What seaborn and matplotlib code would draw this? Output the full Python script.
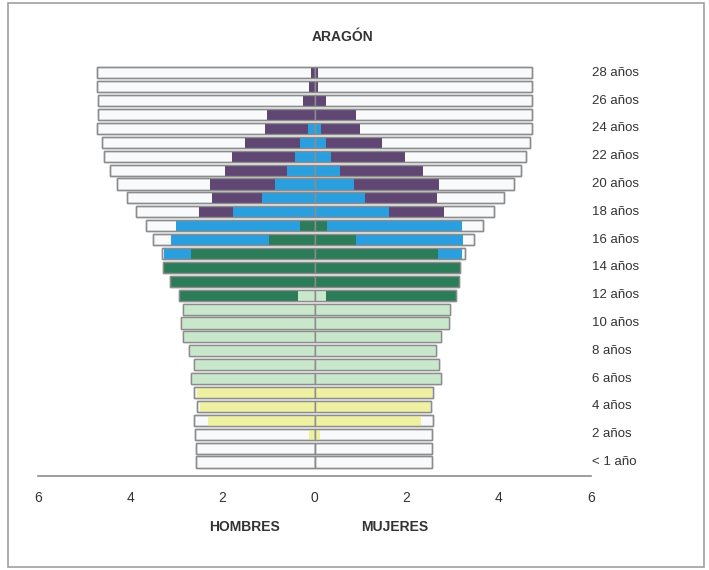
import numpy as np
import matplotlib
matplotlib.use('Agg')
import matplotlib.pyplot as plt
import seaborn as sns

# Edades 0..28 (una barra por edad)
ages = list(range(29))
label_ages = [0, 2, 4, 6, 8, 10, 12, 14, 16, 18, 20, 22, 24, 26, 28]
label_texts = ['< 1 año', '2 años', '4 años', '6 años', '8 años', '10 años', '12 años',
               '14 años', '16 años', '18 años', '20 años', '22 años', '24 años',
               '26 años', '28 años']

# Totales (%)
men_total = [2.58, 2.58, 2.60, 2.62, 2.56, 2.62, 2.67, 2.62, 2.73, 2.86, 2.89, 2.86, 2.95,
             3.13, 3.28, 3.30, 3.50, 3.65, 3.87, 4.07, 4.28, 4.44, 4.57, 4.61, 4.72,
             4.70, 4.70, 4.72, 4.72]
women_total = [2.54, 2.54, 2.56, 2.58, 2.53, 2.58, 2.75, 2.71, 2.64, 2.75, 2.91, 2.93, 3.06,
               3.13, 3.15, 3.26, 3.45, 3.65, 3.89, 4.11, 4.33, 4.48, 4.59, 4.68, 4.72,
               4.72, 4.72, 4.72, 4.72]

# Niveles educativos, de dentro hacia fuera
men_infantil = [0, 0, 0.13, 2.32, 2.49, 2.54] + [0] * 23
men_primaria = [0] * 6 + [2.67, 2.62, 2.73, 2.86, 2.89, 2.86, 0.35] + [0] * 16
men_eso = [0] * 12 + [2.60, 3.13, 3.28, 2.67, 0.98, 0.31] + [0] * 11
men_medias = [0] * 15 + [0.59, 2.14, 2.69, 1.77, 1.14, 0.85, 0.59, 0.42, 0.31, 0.15] + [0] * 4
men_univ = [0] * 18 + [0.74, 1.09, 1.42, 1.36, 1.36, 1.20, 0.92, 1.03, 0.24, 0.11, 0.07]

women_infantil = [0, 0, 0.11, 2.30, 2.51, 2.56] + [0] * 23
women_primaria = [0] * 6 + [2.75, 2.71, 2.64, 2.75, 2.91, 2.93, 0.24] + [0] * 16
women_eso = [0] * 12 + [2.82, 3.13, 3.15, 2.67, 0.90, 0.28] + [0] * 11
women_medias = [0] * 15 + [0.52, 2.32, 2.93, 1.62, 1.09, 0.85, 0.55, 0.35, 0.24, 0.13] + [0] * 4
women_univ = [0] * 18 + [1.20, 1.57, 1.86, 1.81, 1.62, 1.22, 0.85, 0.90, 0.26, 0.07, 0.07]

level_colors = ['#eef0a2', '#c9e7cb', '#2b7d5a', '#2a9fdf', '#5f4673']

sns.set_style('white')
plt.rcParams['font.family'] = ['Liberation Sans', 'DejaVu Sans']

fig = plt.figure(figsize=(7.09, 5.70), dpi=100)
ax = fig.add_axes([0.0536, 0.165, 0.78, 0.722])

edge = '#8c8c8c'
for sign, total, levels in [(-1, men_total, [men_infantil, men_primaria, men_eso, men_medias, men_univ]),
                            (1, women_total, [women_infantil, women_primaria, women_eso, women_medias, women_univ])]:
    tot = sign * np.array(total)
    sns.barplot(x=tot, y=ages, orient='y', native_scale=True, width=0.8,
                color='#f8fafc', saturation=1, edgecolor=edge, linewidth=1.0,
                errorbar=None, ax=ax)
    cum = np.cumsum(np.array(levels), axis=0)
    # capas acumuladas, de la exterior a la interior
    for i in range(len(levels) - 1, -1, -1):
        sns.barplot(x=sign * cum[i], y=ages, orient='y', native_scale=True, width=0.8,
                    color=level_colors[i], saturation=1, linewidth=0,
                    errorbar=None, ax=ax)
    # contorno por encima
    sns.barplot(x=tot, y=ages, orient='y', native_scale=True, width=0.8,
                fill=False, color=edge, linewidth=1.0, errorbar=None, ax=ax)

ax.set_xlim(-6, 6)
ax.set_ylim(-1.0, 28.6)
ax.set_yticks([])
ax.set_xlabel('')
ax.set_ylabel('')
ax.set_xticks([-6, -4, -2, 0, 2, 4, 6])
ax.set_xticklabels(['6', '4', '2', '0', '2', '4', '6'], fontsize=10, color='#333333')
ax.tick_params(axis='x', direction='inout', length=7, width=1, color=edge, pad=7)
for s in ['left', 'right', 'top']:
    ax.spines[s].set_visible(False)
ax.spines['bottom'].set_color(edge)
ax.spines['bottom'].set_linewidth(1.2)

for a, t in zip(label_ages, label_texts):
    ax.text(6.02, a, t, ha='left', va='center', fontsize=9.5, color='#333333', clip_on=False)

fig.text(342 / 709, 1 - 37 / 570, 'ARAGÓN', ha='center', va='center',
         fontsize=10, fontweight='bold', color='#333333')
fig.text(245 / 709, 1 - 527 / 570, 'HOMBRES', ha='center', va='center',
         fontsize=10, fontweight='bold', color='#333333')
fig.text(395 / 709, 1 - 527 / 570, 'MUJERES', ha='center', va='center',
         fontsize=10, fontweight='bold', color='#333333')

fig.add_artist(plt.Rectangle((8 / 709, 3 / 570), 696 / 709, 564 / 570,
                             transform=fig.transFigure, fill=False,
                             edgecolor='#a0a0a0', linewidth=1.2))

fig.savefig('out.png', dpi=100)
